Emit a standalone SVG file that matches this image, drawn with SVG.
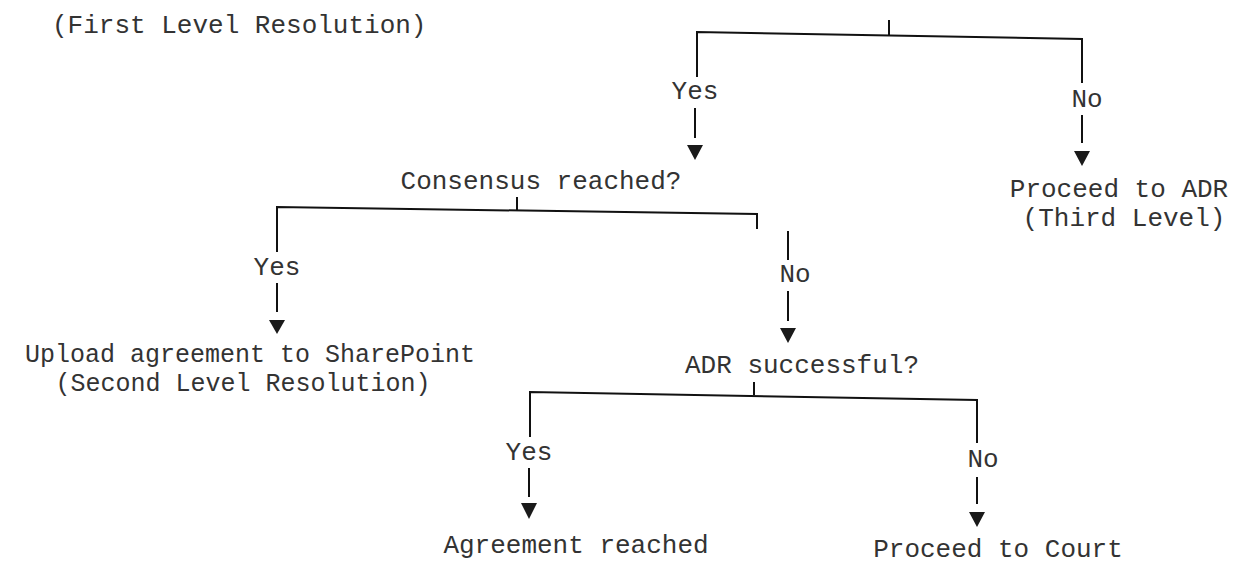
<svg xmlns="http://www.w3.org/2000/svg" width="1242" height="563" viewBox="0 0 1242 563">
<style>
text{font-family:"Liberation Mono","Courier New",monospace;font-size:26px;fill:#333}
.c{text-anchor:middle}
.s{font-size:25px}
.ln{stroke:#111;stroke-width:2;fill:none}
.ah{fill:#1a1a1a}
</style>
<rect width="1242" height="563" fill="#fff"/>
<g id="connectors">
<path class="ln" d="M889,20 V35"/>
<path class="ln" d="M697,77 V32 L1082,39 V83"/>
<path class="ln" d="M695,108 V138"/>
<path class="ah" d="M687,145 H703 L695,160 Z"/>
<path class="ln" d="M1082,115 V143"/>
<path class="ah" d="M1074,151 H1090 L1082,166 Z"/>
<path class="ln" d="M517,197 V210"/>
<path class="ln" d="M277,252 V207 L757,214 V229"/>
<path class="ln" d="M277,283 V312"/>
<path class="ah" d="M269,320 H285 L277,334 Z"/>
<path class="ln" d="M788,231 V260"/>
<path class="ln" d="M788,291 V321"/>
<path class="ah" d="M780,328 H796 L788,343 Z"/>
<path class="ln" d="M754,382 V395"/>
<path class="ln" d="M530,437 V392 L977,400 V443"/>
<path class="ln" d="M529,468 V497"/>
<path class="ah" d="M521,503 H537 L529,519 Z"/>
<path class="ln" d="M977,477 V504"/>
<path class="ah" d="M969,512 H985 L977,527 Z"/>
</g>
<g id="n-first"><text x="52" y="33">(First Level Resolution)</text></g>
<g id="l-yes1"><text class="c" x="695" y="99">Yes</text></g>
<g id="l-no1"><text class="c" x="1087" y="107">No</text></g>
<g id="n-consensus"><text class="c" x="541" y="189">Consensus reached?</text></g>
<g id="n-adr3"><text class="c" x="1119" y="197">Proceed to ADR</text><text class="c" x="1124" y="226">(Third Level)</text></g>
<g id="l-yes2"><text class="c" x="277" y="275">Yes</text></g>
<g id="l-no2"><text class="c" x="795" y="282">No</text></g>
<g id="n-upload"><text class="c s" x="250" y="362">Upload agreement to SharePoint</text><text class="c s" x="243" y="391">(Second Level Resolution)</text></g>
<g id="n-adr"><text class="c" x="802" y="373">ADR successful?</text></g>
<g id="l-yes3"><text class="c" x="529" y="460">Yes</text></g>
<g id="l-no3"><text class="c" x="983" y="467">No</text></g>
<g id="n-agree"><text class="c" x="576" y="553">Agreement reached</text></g>
<g id="n-court"><text class="c" x="998" y="557">Proceed to Court</text></g>
</svg>
